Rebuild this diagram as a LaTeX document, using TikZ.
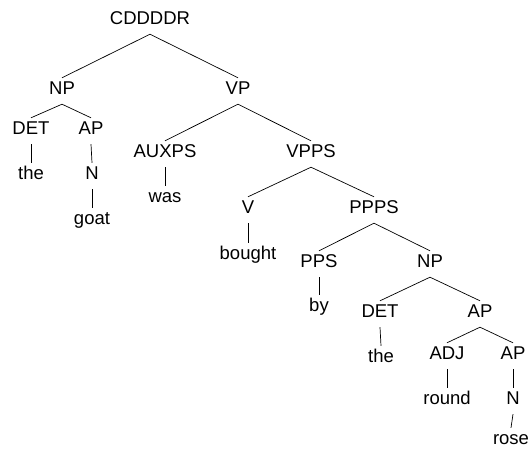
\documentclass[tikz,border=0pt]{standalone}
\usepackage{fontspec}
\setmainfont{Liberation Sans}
\begin{document}
\begin{tikzpicture}[x=1pt,y=-1pt,
  lbl/.style={font=\fontsize{18.5}{20}\selectfont, inner sep=0pt, text height=17pt, text depth=9pt, anchor=base},
  leaf/.style={lbl, text depth=0pt},
  br/.style={line width=0.7pt}]
\useasboundingbox (0,0) rectangle (531,449);
\node[lbl] (s) at (150,25) {CDDDDR};
\node[lbl] (np1) at (62,95) {NP};
\node[lbl] (vp) at (238,95) {VP};
\node[lbl] (det1) at (31,135) {DET};
\node[lbl] (ap1) at (91,135) {AP};
\node[lbl] (the1) at (31,180) {the};
\node[lbl] (n1) at (92,180) {N};
\node[lbl] (goat) at (92,225) {goat};
\node[lbl] (aux) at (165,158) {AUXPS};
\node[lbl] (vpps) at (311,158) {VPPS};
\node[lbl] (was) at (165,203) {was};
\node[lbl] (v) at (248,214) {V};
\node[lbl] (ppps) at (374,214) {PPPS};
\node[lbl] (bought) at (248,260) {bought};
\node[lbl] (pps) at (319,268) {PPS};
\node[lbl] (np2) at (430,268) {NP};
\node[lbl] (by) at (319,312) {by};
\node[lbl] (det2) at (380,318) {DET};
\node[lbl] (ap2) at (480,318) {AP};
\node[lbl] (the2) at (381,363) {the};
\node[lbl] (adj) at (447,360) {ADJ};
\node[lbl] (ap3) at (513,360) {AP};
\node[lbl] (round) at (447,405) {round};
\node[lbl] (n2) at (513,405) {N};
\node[leaf] (rose) at (511,445) {rose};
\foreach \a/\b in {s/np1,s/vp,np1/det1,np1/ap1,det1/the1,ap1/n1,n1/goat,vp/aux,vp/vpps,aux/was,vpps/v,vpps/ppps,v/bought,ppps/pps,ppps/np2,pps/by,np2/det2,np2/ap2,det2/the2,ap2/adj,ap2/ap3,adj/round,ap3/n2,n2/rose}
  \draw[br] (\a.south) -- (\b.north);
\end{tikzpicture}
\end{document}
